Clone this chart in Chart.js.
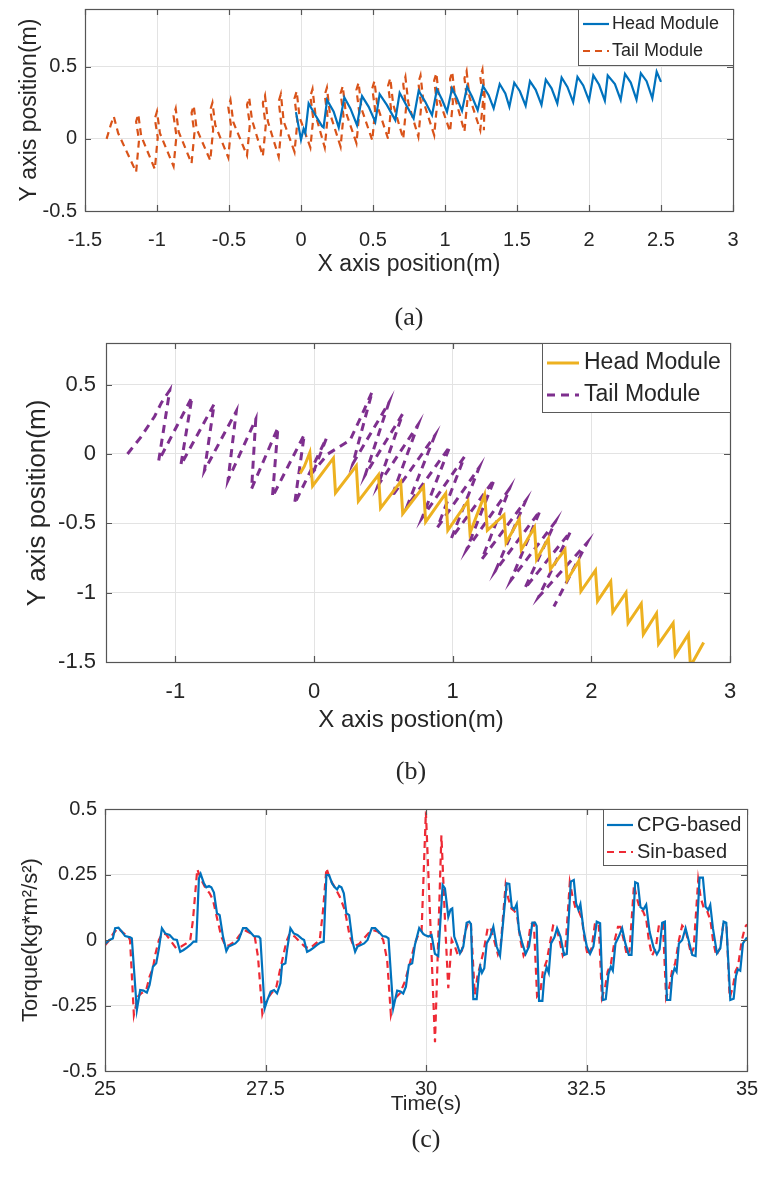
<!DOCTYPE html>
<html><head><meta charset="utf-8">
<script src="https://cdn.jsdelivr.net/npm/chart.js@4.4.1/dist/chart.umd.min.js"></script>
<style>
html,body{margin:0;padding:0;background:#fff;width:760px;height:1184px;overflow:hidden}
canvas{position:absolute;left:0}
</style></head><body>
<canvas id="ca" width="760" height="340" style="top:0px"></canvas>
<canvas id="cb" width="760" height="450" style="top:340px"></canvas>
<canvas id="cc" width="760" height="394" style="top:790px"></canvas>
<script>
// ---------- (a) data ----------
const xTicksA = [-1.5,-1,-0.5,0,0.5,1,1.5,2,2.5,3];
const yTicksA = [-0.5,0,0.5];
const headA = [[-0.035,0.185],[0.0,-0.005],[0.018,0.07],[0.03,0.04],[0.053,0.245],[0.1,0.164],[0.146,0.088],[0.157,0.079],
[0.181,0.269],[0.227,0.188],[0.262,0.079],[0.301,0.287],[0.343,0.211],[0.389,0.095],[0.424,0.296],[0.47,0.222],[0.516,0.118],
[0.546,0.31],[0.597,0.234],[0.655,0.13],[0.685,0.319],[0.725,0.245],[0.782,0.141],[0.817,0.333],[0.863,0.257],[0.91,0.164],
[0.944,0.343],[0.979,0.273],[1.014,0.188],[1.049,0.35],[1.083,0.28],[1.118,0.194],[1.153,0.361],[1.188,0.292],[1.227,0.199],
[1.264,0.366],[1.303,0.303],[1.338,0.211],[1.38,0.38],[1.419,0.315],[1.447,0.222],[1.481,0.389],[1.52,0.33],[1.56,0.23],
[1.59,0.40],[1.63,0.34],[1.67,0.235],[1.70,0.41],[1.74,0.35],[1.78,0.245],[1.81,0.425],[1.85,0.36],[1.89,0.255],
[1.92,0.43],[1.96,0.37],[2.0,0.265],[2.03,0.44],[2.07,0.375],[2.11,0.265],[2.13,0.44],[2.18,0.38],[2.22,0.27],
[2.25,0.45],[2.29,0.39],[2.33,0.272],[2.36,0.455],[2.40,0.40],[2.44,0.28],[2.47,0.465],[2.5,0.395]];
const tailA = [[-1.35,0.0],[-1.32,0.10],[-1.30,0.155],[-1.27,0.04],
[-1.145,-0.23],[-1.125,-0.01],[-1.145,0.12],[-1.13,0.17],[-1.11,0.02],
[-1.015,-0.21],[-0.995,0.01],[-1.015,0.14],[-1.0,0.19],[-0.98,0.04],
[-0.885,-0.19],[-0.865,0.02],[-0.885,0.16],[-0.87,0.21],[-0.85,0.05],
[-0.76,-0.17],[-0.74,0.04],[-0.76,0.18],[-0.745,0.23],[-0.725,0.07],
[-0.63,-0.15],[-0.61,0.065],[-0.63,0.20],[-0.615,0.25],[-0.595,0.095],
[-0.505,-0.13],[-0.485,0.085],[-0.505,0.22],[-0.49,0.27],[-0.47,0.115],
[-0.375,-0.115],[-0.355,0.10],[-0.375,0.235],[-0.36,0.285],[-0.34,0.13],
[-0.265,-0.12],[-0.245,0.09],[-0.265,0.25],[-0.25,0.30],[-0.23,0.12],
[-0.155,-0.125],[-0.135,0.09],[-0.155,0.26],[-0.14,0.31],[-0.12,0.12],
[-0.045,-0.09],[-0.025,0.12],[-0.045,0.28],[-0.03,0.33],[-0.01,0.15],
[0.065,-0.06],[0.085,0.14],[0.065,0.295],[0.08,0.345],[0.10,0.17],
[0.165,-0.06],[0.185,0.15],[0.165,0.305],[0.18,0.355],[0.20,0.18],
[0.275,-0.055],[0.295,0.16],[0.275,0.315],[0.29,0.365],[0.31,0.19],
[0.385,-0.03],[0.405,0.18],[0.385,0.34],[0.40,0.39],[0.42,0.21],
[0.495,-0.01],[0.515,0.20],[0.495,0.35],[0.51,0.40],[0.53,0.23],
[0.605,0.0],[0.625,0.21],[0.605,0.37],[0.62,0.42],[0.64,0.24],
[0.71,0.0],[0.73,0.22],[0.71,0.38],[0.725,0.43],[0.745,0.25],
[0.815,0.015],[0.835,0.23],[0.815,0.39],[0.83,0.44],[0.85,0.26],
[0.925,0.025],[0.945,0.24],[0.925,0.405],[0.94,0.455],[0.96,0.27],
[1.035,0.05],[1.055,0.255],[1.035,0.415],[1.05,0.465],[1.07,0.285],
[1.135,0.05],[1.155,0.26],[1.135,0.42],[1.15,0.47],[1.17,0.29],
[1.245,0.06],[1.265,0.27],[1.245,0.43],[1.26,0.48],[1.275,0.30],[1.27,0.06]];

// ---------- (b) data ----------
const xTicksB = [-1,0,1,2,3];
const yTicksB = [-1.5,-1,-0.5,0,0.5];
const headB = [[-0.10,-0.14],[-0.07,-0.09],[-0.03,0.01],[-0.01,-0.23],[0.14,-0.03],[0.155,-0.28],[0.305,-0.085],[0.32,-0.34],
[0.465,-0.15],[0.48,-0.39],[0.625,-0.2],[0.64,-0.43],[0.79,-0.235],[0.805,-0.49],[0.95,-0.285],[0.965,-0.55],
[1.11,-0.34],[1.125,-0.57],[1.23,-0.295],[1.25,-0.55],[1.37,-0.44],[1.385,-0.64],[1.48,-0.47],[1.495,-0.69],
[1.59,-0.53],[1.605,-0.76],[1.69,-0.61],[1.705,-0.83],[1.81,-0.69],[1.825,-0.91],[1.91,-0.77],[1.925,-0.99],
[2.03,-0.84],[2.045,-1.06],[2.14,-0.92],[2.155,-1.14],[2.25,-1.0],[2.265,-1.22],[2.36,-1.08],[2.375,-1.30],
[2.47,-1.15],[2.485,-1.37],[2.59,-1.22],[2.605,-1.45],[2.70,-1.30],[2.715,-1.53],[2.81,-1.36]];
const tailB = [[-1.345,0.0],[-1.25,0.12],[-1.15,0.27],[-1.10,0.37],[-1.04,0.46],
[-1.12,-0.05],[-0.88,0.41],[-0.96,-0.08],[-0.72,0.36],[-0.79,-0.12],[-0.56,0.31],[-0.62,-0.19],
[-0.42,0.25],[-0.45,-0.25],[-0.26,0.19],[-0.30,-0.31],[-0.07,0.14],[-0.14,-0.36],[0.09,0.115],[0.0,-0.12],
[0.10,0.0],[0.26,0.10],[0.34,0.27],[0.42,0.45],
[0.28,-0.07],[0.54,0.37],[0.37,-0.15],[0.64,0.29],[0.46,-0.23],[0.75,0.21],[0.56,-0.31],[0.87,0.13],
[0.67,-0.38],[0.98,0.055],[0.78,-0.46],[1.085,-0.02],[0.89,-0.53],[1.19,-0.10],[0.99,-0.61],[1.30,-0.185],
[1.10,-0.69],[1.41,-0.25],[1.21,-0.76],[1.525,-0.34],[1.31,-0.84],[1.63,-0.41],[1.42,-0.91],[1.74,-0.49],
[1.52,-0.97],[1.85,-0.56],[1.62,-1.03],[1.97,-0.64],[1.73,-1.10]];

// ---------- (c) data ----------
const xTicksC = [25,27.5,30,32.5,35];
const yTicksC = [-0.5,-0.25,0,0.25,0.5];
const cpg = [[25.0,-0.015],[25.07,0.0],[25.122,0.006],[25.158,0.045],[25.21,0.047],[25.262,0.032],[25.314,0.015],[25.392,0.010],
[25.418,0.006],[25.496,-0.267],[25.548,-0.191],[25.60,-0.193],[25.652,-0.201],[25.694,-0.172],[25.746,-0.102],[25.798,-0.089],
[25.84,-0.032],[25.886,0.045],[25.938,0.025],[26.006,0.019],[26.068,0.003],[26.12,0.0],[26.172,-0.045],[26.224,-0.038],
[26.276,-0.029],[26.328,-0.019],[26.38,-0.006],[26.422,-0.006],[26.463,0.235],[26.49,0.252],[26.541,0.216],[26.578,0.201],
[26.62,0.206],[26.656,0.201],[26.697,0.181],[26.744,0.102],[26.786,0.095],[26.838,0.013],[26.89,-0.042],[26.926,-0.025],
[26.978,-0.019],[27.03,-0.013],[27.082,0.0],[27.15,0.045],[27.202,0.045],[27.254,0.032],[27.316,0.015],[27.394,0.013],
[27.42,0.006],[27.487,-0.261],[27.529,-0.229],[27.581,-0.197],[27.633,-0.191],[27.68,-0.204],[27.732,-0.165],[27.758,-0.095],
[27.81,-0.089],[27.836,-0.038],[27.888,0.045],[27.94,0.025],[27.997,0.019],[28.059,0.006],[28.101,0.0],[28.148,-0.045],
[28.20,-0.038],[28.252,-0.029],[28.304,-0.019],[28.355,-0.010],[28.407,-0.006],[28.449,0.248],[28.49,0.248],[28.537,0.216],
[28.579,0.201],[28.615,0.193],[28.646,0.206],[28.683,0.201],[28.72,0.178],[28.761,0.102],[28.803,0.095],[28.855,-0.006],
[28.896,-0.045],[28.933,-0.025],[28.985,-0.019],[29.037,-0.013],[29.089,0.0],[29.156,0.045],[29.208,0.045],[29.26,0.032],
[29.323,0.015],[29.374,0.013],[29.416,0.006],[29.489,-0.261],[29.551,-0.193],[29.603,-0.197],[29.645,-0.204],[29.687,-0.178],
[29.733,-0.095],[29.785,-0.089],[29.827,-0.019],[29.894,0.045],[29.957,0.023],[29.983,0.019],[30.035,0.013],[30.087,0.019],
[30.139,-0.053],[30.191,-0.061],[30.259,0.21],[30.295,0.197],[30.347,0.089],[30.383,0.117],[30.409,0.121],[30.44,0.013],
[30.487,-0.019],[30.529,-0.051],[30.581,-0.025],[30.633,0.066],[30.674,0.07],[30.70,0.061],[30.737,-0.226],[30.789,-0.226],
[30.82,-0.14],[30.846,-0.102],[30.872,-0.125],[30.908,-0.108],[30.945,-0.013],[30.997,0.01],[31.049,0.051],[31.101,-0.025],
[31.153,-0.06],[31.257,0.216],[31.298,0.214],[31.335,0.127],[31.376,0.117],[31.413,0.137],[31.448,0.038],[31.5,-0.013],
[31.552,-0.053],[31.605,-0.025],[31.657,0.066],[31.698,0.066],[31.724,0.053],[31.761,-0.232],[31.813,-0.232],[31.844,-0.136],
[31.88,-0.104],[31.912,-0.125],[31.948,-0.013],[32.0,0.01],[32.042,0.045],[32.094,0.013],[32.151,-0.057],[32.193,-0.053],
[32.255,0.223],[32.302,0.229],[32.338,0.14],[32.374,0.115],[32.405,0.137],[32.452,0.042],[32.505,-0.025],[32.556,-0.053],
[32.608,-0.025],[32.66,0.07],[32.712,0.064],[32.754,-0.229],[32.8,-0.226],[32.842,-0.13],[32.879,-0.102],[32.91,-0.117],
[32.951,-0.013],[33.003,0.013],[33.055,0.045],[33.107,-0.015],[33.159,-0.057],[33.201,-0.057],[33.258,0.221],[33.3,0.216],
[33.341,0.125],[33.388,0.117],[33.43,0.135],[33.482,0.032],[33.544,-0.028],[33.596,-0.055],[33.638,-0.036],[33.679,0.066],
[33.721,0.07],[33.752,-0.229],[33.804,-0.229],[33.835,-0.137],[33.872,-0.108],[33.903,-0.121],[33.939,-0.013],[33.991,0.0],
[34.043,0.045],[34.095,-0.006],[34.147,-0.057],[34.199,-0.061],[34.261,0.238],[34.313,0.238],[34.355,0.127],[34.397,0.115],
[34.428,0.134],[34.469,0.045],[34.532,-0.051],[34.584,-0.032],[34.636,0.07],[34.677,0.066],[34.74,-0.229],[34.792,-0.224],
[34.828,-0.137],[34.859,-0.112],[34.895,-0.117],[34.937,-0.013],[35.0,0.01]];
const sinb = [[25.0,-0.02],[25.05,-0.006],[25.13,0.025],[25.20,0.045],[25.28,0.028],[25.36,0.013],[25.39,0.0],[25.45,-0.286],
[25.512,-0.216],[25.564,-0.204],[25.642,-0.191],[25.694,-0.14],[25.746,-0.108],[25.787,-0.051],[25.84,0.0],[25.891,0.025],
[25.95,0.022],[26.032,-0.006],[26.11,-0.032],[26.188,-0.025],[26.266,-0.013],[26.328,0.0],[26.37,0.076],[26.437,0.27],
[26.5,0.229],[26.567,0.197],[26.63,0.178],[26.682,0.153],[26.734,0.095],[26.812,0.013],[26.88,-0.025],[26.942,-0.019],
[27.02,-0.006],[27.098,0.019],[27.175,0.038],[27.254,0.028],[27.332,0.013],[27.383,-0.064],[27.451,-0.282],[27.513,-0.229],
[27.591,-0.204],[27.67,-0.178],[27.72,-0.121],[27.773,-0.064],[27.825,-0.006],[27.877,0.025],[27.955,0.013],[28.033,-0.006],
[28.111,-0.025],[28.19,-0.032],[28.283,-0.013],[28.345,0.0],[28.397,0.115],[28.449,0.274],[28.512,0.229],[28.579,0.201],
[28.657,0.165],[28.735,0.115],[28.813,0.013],[28.875,-0.025],[28.959,-0.015],[29.032,0.006],[29.1,0.025],[29.167,0.038],
[29.255,0.032],[29.333,0.0],[29.395,-0.076],[29.453,-0.286],[29.515,-0.223],[29.593,-0.204],[29.671,-0.159],[29.749,-0.089],
[29.827,-0.013],[29.879,0.019],[29.931,0.032],[29.998,0.49],[30.07,0.05],[30.14,-0.39],[30.19,0.0],[30.24,0.40],[30.30,0.05],
[30.347,-0.184],[30.40,0.0],[30.45,-0.025],[30.50,-0.06],[30.56,-0.04],[30.61,0.03],[30.66,0.07],[30.70,0.06],[30.76,-0.21],
[30.80,-0.14],[30.84,-0.10],[30.90,-0.04],[30.96,0.045],[31.0,0.05],[31.06,0.0],[31.12,-0.055],[31.16,-0.03],[31.24,0.21],
[31.28,0.16],[31.33,0.12],[31.38,0.11],[31.42,0.09],[31.47,0.0],[31.52,-0.06],[31.58,-0.03],[31.63,0.06],[31.68,0.065],
[31.73,-0.215],[31.78,-0.2],[31.82,-0.12],[31.88,-0.08],[31.94,0.0],[31.98,0.055],[32.03,0.05],[32.08,0.0],[32.13,-0.06],
[32.17,-0.04],[32.24,0.22],[32.28,0.17],[32.33,0.12],[32.38,0.11],[32.43,0.08],[32.47,0.0],[32.52,-0.06],[32.58,-0.03],
[32.63,0.06],[32.69,0.065],[32.74,-0.22],[32.79,-0.18],[32.83,-0.12],[32.88,-0.09],[32.94,0.0],[32.99,0.05],[33.03,0.05],
[33.08,0.0],[33.13,-0.06],[33.17,-0.04],[33.24,0.21],[33.28,0.165],[33.33,0.12],[33.38,0.11],[33.43,0.08],[33.47,0.0],
[33.52,-0.06],[33.58,-0.03],[33.63,0.06],[33.69,0.065],[33.74,-0.22],[33.79,-0.18],[33.83,-0.12],[33.88,-0.09],[33.94,0.0],
[33.99,0.055],[34.04,0.04],[34.08,0.0],[34.13,-0.055],[34.17,-0.03],[34.24,0.23],[34.28,0.16],[34.33,0.12],[34.38,0.11],
[34.43,0.075],[34.47,0.0],[34.52,-0.06],[34.58,-0.03],[34.63,0.06],[34.68,0.06],[34.73,-0.22],[34.78,-0.18],[34.82,-0.12],
[34.86,-0.10],[34.92,0.0],[34.97,0.05],[35.0,0.06]];

// ---------- helpers ----------
const SANS = '"Liberation Sans", Arial, Helvetica, sans-serif';
const SERIF = '"Liberation Serif", "Times New Roman", serif';
const TXT = '#262626';
const AXC = '#555555';
const GRID = '#e3e3e3';
const pts = a => a.map(p => ({x: p[0], y: p[1]}));
const fmt = v => String(Math.round(v * 100) / 100);

function makeChart(id, cfg) {
  const el = document.getElementById(id);
  const W = el.width, H = el.height, A = cfg.area;
  const custom = {
    id: 'custom_' + id,
    afterDatasetsDraw(chart) {
      const ctx = chart.ctx, ca = chart.chartArea, xs = chart.scales.x, ys = chart.scales.y;
      ctx.save();
      ctx.strokeStyle = AXC; ctx.lineWidth = 1.2; ctx.setLineDash([]);
      ctx.strokeRect(Math.round(ca.left) + 0.5, Math.round(ca.top) + 0.5, Math.round(ca.right - ca.left), Math.round(ca.bottom - ca.top));
      const tl = 6;
      ctx.beginPath();
      cfg.xTicks.forEach(v => { const p = Math.round(xs.getPixelForValue(v)) + 0.5;
        ctx.moveTo(p, ca.bottom); ctx.lineTo(p, ca.bottom - tl); ctx.moveTo(p, ca.top); ctx.lineTo(p, ca.top + tl); });
      cfg.yTicks.forEach(v => { const p = Math.round(ys.getPixelForValue(v)) + 0.5;
        ctx.moveTo(ca.left, p); ctx.lineTo(ca.left + tl, p); ctx.moveTo(ca.right, p); ctx.lineTo(ca.right - tl, p); });
      ctx.stroke();
      const L = cfg.legend;
      ctx.fillStyle = '#fff'; ctx.fillRect(L.x0, L.y0, L.x1 - L.x0, L.y1 - L.y0);
      ctx.strokeStyle = '#5a5a5a'; ctx.lineWidth = 1;
      ctx.strokeRect(L.x0 + 0.5, L.y0 + 0.5, L.x1 - L.x0, L.y1 - L.y0);
      chart.data.datasets.forEach((ds, i) => {
        const yy = L.rows[i];
        ctx.strokeStyle = ds.borderColor; ctx.lineWidth = ds.borderWidth; ctx.setLineDash(ds.borderDash || []);
        ctx.beginPath(); ctx.moveTo(L.s0, yy); ctx.lineTo(L.s1, yy); ctx.stroke();
        ctx.setLineDash([]);
        ctx.fillStyle = TXT; ctx.font = L.font; ctx.textAlign = 'left'; ctx.textBaseline = 'middle';
        ctx.fillText(ds.label, L.tx, yy);
      });
      ctx.restore();
    },
    afterDraw(chart) {
      const ctx = chart.ctx;
      ctx.save();
      cfg.texts.forEach(t => {
        ctx.font = t.font; ctx.fillStyle = TXT; ctx.textAlign = 'center'; ctx.textBaseline = 'middle';
        ctx.save(); ctx.translate(t.x, t.y); if (t.rot) ctx.rotate(-Math.PI / 2); ctx.fillText(t.text, 0, 0); ctx.restore();
      });
      ctx.restore();
    }
  };
  return new Chart(el, {
    type: 'scatter',
    data: { datasets: cfg.datasets.map(d => Object.assign({showLine: true, pointRadius: 0, fill: false, tension: 0}, d)) },
    options: {
      responsive: false, animation: false, devicePixelRatio: 1,
      layout: { padding: { left: 0, top: A.top, right: W - A.right, bottom: 0 } },
      plugins: { legend: { display: false }, tooltip: { enabled: false } },
      scales: {
        x: { type: 'linear', min: cfg.xMin, max: cfg.xMax,
          afterBuildTicks: s => { s.ticks = cfg.xTicks.map(v => ({value: v})); },
          afterFit: s => { s.height = H - A.bottom; s.paddingLeft = 0; s.paddingRight = 0; s.paddingTop = 0; s.paddingBottom = 0; },
          ticks: { callback: fmt, color: TXT, font: { family: SANS, size: cfg.tickSize }, padding: cfg.xPad, maxRotation: 0, autoSkip: false },
          grid: { color: GRID, drawTicks: false }, border: { display: false } },
        y: { type: 'linear', min: cfg.yMin, max: cfg.yMax,
          afterBuildTicks: s => { s.ticks = cfg.yTicks.map(v => ({value: v})); },
          afterFit: s => { s.width = A.left; s.paddingTop = 0; s.paddingBottom = 0; s.paddingLeft = 0; s.paddingRight = 0; },
          ticks: { callback: fmt, color: TXT, font: { family: SANS, size: cfg.tickSize }, padding: cfg.yPad, autoSkip: false },
          grid: { color: GRID, drawTicks: false }, border: { display: false } }
      }
    },
    plugins: [custom]
  });
}

// ---------- (a) ----------
makeChart('ca', {
  area: {left: 85, right: 733, top: 9, bottom: 211},
  xMin: -1.5, xMax: 3, yMin: -0.5, yMax: 0.9, xTicks: xTicksA, yTicks: yTicksA,
  tickSize: 20, xPad: 17, yPad: 8,
  datasets: [
    {label: 'Head Module', data: pts(headA), borderColor: '#0072BD', borderWidth: 2.2},
    {label: 'Tail Module', data: pts(tailA), borderColor: '#D95319', borderWidth: 2.2, borderDash: [7, 5]}
  ],
  legend: {x0: 578, y0: 9, x1: 733, y1: 65, rows: [24, 51], s0: 583, s1: 609, tx: 612, font: '18px ' + SANS},
  texts: [
    {text: 'Y axis position(m)', x: 30, y: 110, rot: true, font: '23px ' + SANS},
    {text: 'X axis position(m)', x: 409, y: 265, font: '23px ' + SANS},
    {text: '(a)', x: 409, y: 318, font: '26px ' + SERIF}
  ]
});

// ---------- (b) ----------
makeChart('cb', {
  area: {left: 106, right: 730, top: 3, bottom: 322},
  xMin: -1.5, xMax: 3, yMin: -1.5, yMax: 0.8, xTicks: xTicksB, yTicks: yTicksB,
  tickSize: 22, xPad: 17, yPad: 10,
  datasets: [
    {label: 'Head Module', data: pts(headB), borderColor: '#EDB120', borderWidth: 3},
    {label: 'Tail Module', data: pts(tailB), borderColor: '#7E2F8E', borderWidth: 3, borderDash: [8, 6]}
  ],
  legend: {x0: 542, y0: 3, x1: 730, y1: 72, rows: [23, 55], s0: 547, s1: 579, tx: 584, font: '23px ' + SANS},
  texts: [
    {text: 'Y axis position(m)', x: 38, y: 163, rot: true, font: '26px ' + SANS},
    {text: 'X axis postion(m)', x: 411, y: 380, font: '24px ' + SANS},
    {text: '(b)', x: 411, y: 432, font: '26px ' + SERIF}
  ]
});

// ---------- (c) ----------
makeChart('cc', {
  area: {left: 105, right: 747, top: 19, bottom: 281},
  xMin: 25, xMax: 35, yMin: -0.5, yMax: 0.5, xTicks: xTicksC, yTicks: yTicksC,
  tickSize: 20, xPad: 6, yPad: 8,
  datasets: [
    {label: 'CPG-based', data: pts(cpg), borderColor: '#0072BD', borderWidth: 2.2},
    {label: 'Sin-based', data: pts(sinb), borderColor: '#EE2A35', borderWidth: 2.2, borderDash: [7, 5]}
  ],
  legend: {x0: 603, y0: 19, x1: 747, y1: 75, rows: [35, 62], s0: 607, s1: 633, tx: 637, font: '20px ' + SANS},
  texts: [
    {text: 'Torque(kg*m\u00B2/s\u00B2)', x: 31, y: 150, rot: true, font: '22px ' + SANS},
    {text: 'Time(s)', x: 426, y: 314, font: '21px ' + SANS},
    {text: '(c)', x: 426, y: 350, font: '26px ' + SERIF}
  ]
});
</script>
</body></html>
